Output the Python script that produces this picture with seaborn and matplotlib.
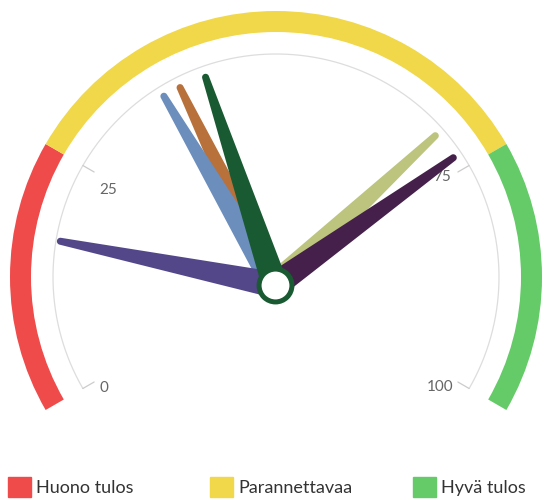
import numpy as np
import matplotlib
matplotlib.use('Agg')
import matplotlib.pyplot as plt
from matplotlib.patches import Patch
import seaborn as sns

# gauge bands
band_names = ['Huono tulos', 'Parannettavaa', 'Hyvä tulos']
band_from = [0, 25, 75]
band_to = [25, 75, 100]
band_colors = ['#ef4b4b', '#f0d84a', '#64cb68']

# needles (drawing order: later on top)
needle_values = [39.3, 37.3, 17.3, 69.6, 72.7, 42.3]
needle_colors = ['#b8713a', '#6b8ebd', '#53478a', '#bcc47d', '#45204b', '#1a5a32']

tick_values = [0, 25, 75, 100]
# pixel nudges for the tick labels (Highcharts-like placement)
label_nudge = [(-8, -16), (-3, -8), (1, 5), (0, -15)]


def to_theta(v):
    """Map gauge value 0..100 to angle (-120..120 deg from top)."""
    return np.deg2rad(-120 + 240 * np.asarray(v, dtype=float) / 100)


def polar_axes(fig, cx, cy, R, W=545, H=500):
    ax = fig.add_axes([(cx - R) / W, (H - cy - R) / H, 2 * R / W, 2 * R / H],
                      projection='polar')
    ax.set_theta_zero_location('N')
    ax.set_theta_direction(-1)
    ax.set_ylim(0, R)
    ax.axis('off')
    ax.patch.set_alpha(0)
    return ax


sns.set_style('white')
plt.rcParams['font.family'] = 'Lato'

fig = plt.figure(figsize=(5.45, 5.0), dpi=100)

# pane with bands, arc, ticks
ax = polar_axes(fig, 276, 277, 272)
for a, b, c in zip(band_from, band_to, band_colors):
    t0, t1 = to_theta(a), to_theta(b)
    ax.bar((t0 + t1) / 2, 21, width=t1 - t0, bottom=245, color=c,
           edgecolor='none', align='center', zorder=1)

arc = np.linspace(to_theta(0), to_theta(100), 400)
ax.plot(arc, np.full_like(arc, 223), color='#dddddd', lw=0.9, zorder=1)
for v, (nx, ny) in zip(tick_values, label_nudge):
    t = to_theta(v)
    ax.plot([t, t], [210, 223], color='#cccccc', lw=0.9, zorder=1)
    ax.annotate(str(v), xy=(t, 190), xytext=(nx, ny), textcoords='offset pixels',
                ha='center', va='center', fontsize=11, color='#666666', zorder=1)

# pane with needles
axn = polar_axes(fig, 275, 285, 272)
L, wb, wt = 219, 26, 7
rr = np.linspace(0.5, L, 80)
half = (wb + (wt - wb) * rr / L) / 2
phi = np.linspace(-np.pi / 2, np.pi / 2, 30)
along = np.concatenate([rr, L + wt / 2 * np.cos(phi), rr[::-1]])
perp = np.concatenate([-half, wt / 2 * np.sin(phi), half[::-1]])
for v, c in zip(needle_values, needle_colors):
    t = to_theta(v)
    axn.fill(t + np.arctan2(perp, along), np.hypot(along, perp), color=c,
             lw=0, zorder=3)

axn.scatter([0], [0], s=560, facecolor='white', edgecolor='#1a5a32',
            linewidths=3.6, zorder=10)

# legend, fixed-width items
legend_x = [8, 210, 413]
for name, c, x in zip(band_names, band_colors, legend_x):
    fig.legend(handles=[Patch(color=c)], labels=[name], loc='center left',
               bbox_to_anchor=(x / 545, 13 / 500), frameon=False, borderpad=0,
               borderaxespad=0, handlelength=1.25, handleheight=1.25,
               handletextpad=0.3, fontsize=13, labelcolor='#333333')

plt.savefig('out.png', dpi=100)
